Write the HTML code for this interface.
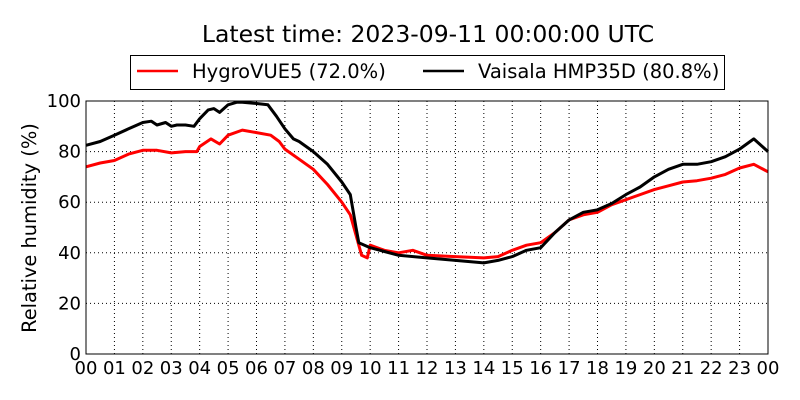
<!DOCTYPE html>
<html><head><meta charset="utf-8"><style>
body{margin:0;background:#fff;}
svg{display:block;font-family:"DejaVu Sans","Liberation Sans",sans-serif;}
</style></head><body>
<svg id="chart" width="800" height="400" viewBox="0 0 800 400">
<text x="428" y="42" font-size="23.5" text-anchor="middle">Latest time: 2023-09-11 00:00:00 UTC</text>
<g>
<rect x="130.5" y="55.5" width="594" height="34" fill="#fff" stroke="#000" stroke-width="1"/>
<g><line x1="137" y1="71" x2="178" y2="71" stroke="#f00" stroke-width="2.5"/><text x="192" y="78" font-size="19.5">HygroVUE5 (72.0%)</text></g>
<g><line x1="423" y1="71" x2="464" y2="71" stroke="#000" stroke-width="2.5"/><text x="478" y="78" font-size="19.5">Vaisala HMP35D (80.8%)</text></g>
</g>
<text transform="translate(36,228) rotate(-90)" font-size="19.4" text-anchor="middle">Relative humidity (%)</text>
<g id="grid"></g><g id="ticks"></g><g id="series"></g>
<rect x="86" y="101" width="682" height="253" fill="none" stroke="#000" stroke-width="1"/>
</svg>
<script>
const yTicks=[0,20,40,60,80,100];
const xTickLabels=["00","01","02","03","04","05","06","07","08","09","10","11","12","13","14","15","16","17","18","19","20","21","22","23","00"];
const vaisalaHours=[0,0.5,1,1.5,2,2.3,2.5,2.8,3,3.2,3.5,3.8,4,4.3,4.5,4.7,5,5.3,5.5,6,6.4,6.7,7,7.3,7.5,8,8.5,9,9.3,9.5,9.6,10,10.5,11,12,13,14,14.5,15,15.5,16,16.5,17,17.5,18,18.5,19,19.5,20,20.5,21,21.5,22,22.5,23,23.5,23.8,24];
const vaisalaValues=[82.5,84,86.5,89,91.5,92,90.5,91.5,90,90.5,90.5,90,93,96.5,97,95.5,98.5,99.5,99.5,99,98.5,94,89,85,84,80,75,68,63,50,44,42,40.5,39,38,37,36,37,38.5,41,42,48,53,56,57,59.5,63,66,70,73,75,75,76,78,81,85,82,80];
const hygroHours=[0,0.5,1,1.5,2,2.5,3,3.5,3.9,4,4.4,4.7,5,5.5,6,6.5,6.8,7,7.5,8,8.5,9,9.3,9.5,9.7,9.9,10,10.5,11,11.5,12,13,14,14.5,15,15.5,16,16.5,17,17.5,18,18.5,19,19.5,20,20.5,21,21.5,22,22.5,23,23.5,24];
const hygroValues=[74,75.5,76.5,79,80.5,80.5,79.5,80,80,82,85,83,86.5,88.5,87.5,86.5,84,81,77,73,67,60,55,47,39,38,43,41,40,41,39,38.5,38,38.5,41,43,44,48,53,55,56,59,61,63,65,66.5,68,68.5,69.5,71,73.5,75,72];
const L=86,R=768,T=101,B=354;
const xS=h=>L+(R-L)*h/24, yS=v=>B-(B-T)*v/100;
const NS="http://www.w3.org/2000/svg";
function mk(tag,attrs,parent){const e=document.createElementNS(NS,tag);for(const k in attrs)e.setAttribute(k,attrs[k]);parent.appendChild(e);return e;}
const grid=document.getElementById('grid'),ticks=document.getElementById('ticks'),series=document.getElementById('series');
yTicks.forEach(v=>{
  const y=yS(v);
  const g=mk('line',{x1:L,x2:R,y1:y,y2:y,stroke:'#000','stroke-width':1,'stroke-dasharray':'1,3'},grid);
  
  
  const t=mk('text',{x:L-5,y:y+6,'font-size':18,'text-anchor':'end'},ticks);
  t.textContent=v;
  
  
});
xTickLabels.forEach((lab,i)=>{
  const x=xS(i);
  const g=mk('line',{x1:x,x2:x,y1:T,y2:B,stroke:'#000','stroke-width':1,'stroke-dasharray':'1,3'},grid);
  
  
  const t=mk('text',{x:x,y:374,'font-size':18,'text-anchor':'middle'},ticks);
  t.textContent=lab;
  
  
});
function line(hs,vs,color,name){
  const d=hs.map((h,i)=>(i?'L':'M')+xS(h).toFixed(1)+','+yS(vs[i]).toFixed(1)).join('');
  const p=mk('path',{d:d,fill:'none',stroke:color,'stroke-width':3,'stroke-linejoin':'round'},series);
  
  
}
line(hygroHours,hygroValues,'#f00','hygrovue5-line');
line(vaisalaHours,vaisalaValues,'#000','vaisala-line');
</script>
</body></html>
